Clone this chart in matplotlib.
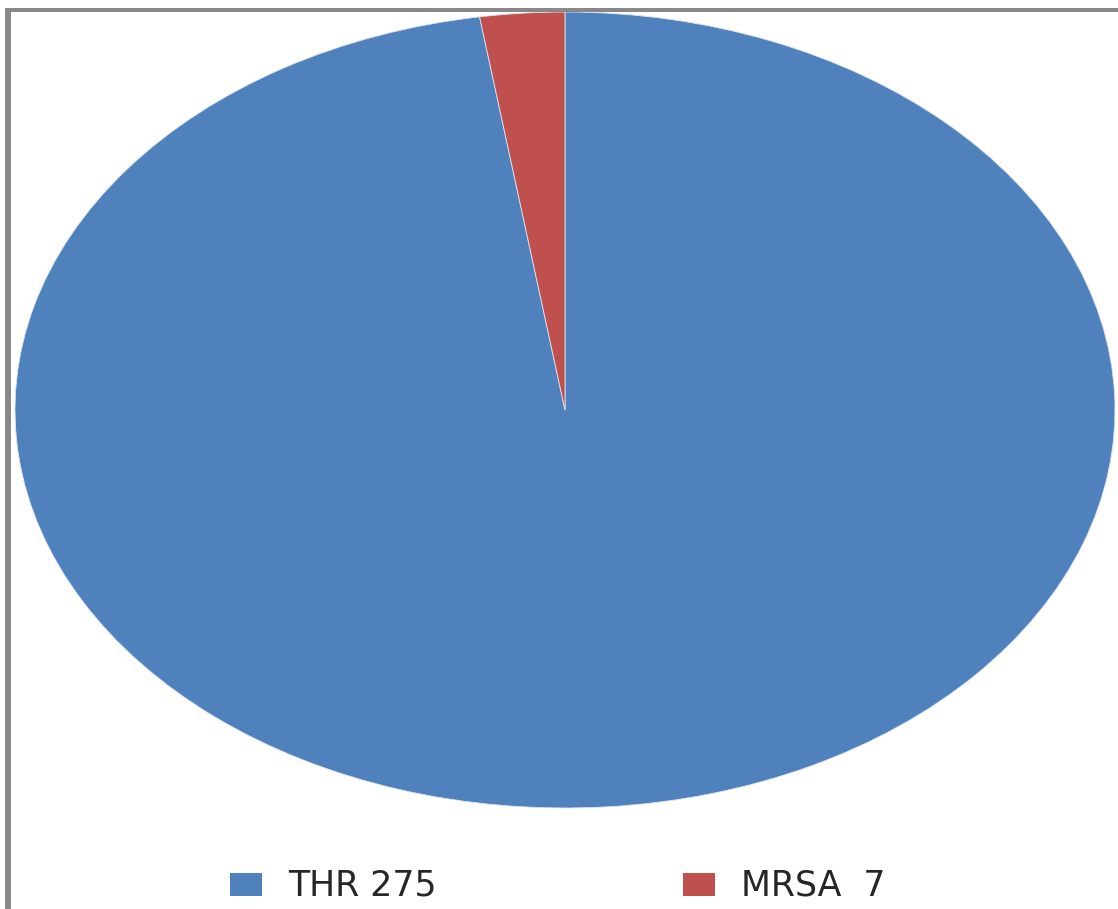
import matplotlib
matplotlib.use('Agg')
import matplotlib.pyplot as plt
from matplotlib.patches import Rectangle
from matplotlib.lines import Line2D

LABELS = ['THR', 'MRSA']
VALUES = [275, 7]
LEGEND_TEXT = ['THR 275', 'MRSA  7']
COLORS = ['#4F81BD', '#C0504D']

W, H = 1118, 909


def fx(px):
    return px / W


def fy(py):
    return 1 - py / H


fig = plt.figure(figsize=(W / 100, H / 100), dpi=100)

# pie stretched into an ellipse: bbox 15..1115 x 12..808 px
ax = fig.add_axes([fx(15), fy(808), fx(1100), 796 / H])
ax.pie(VALUES, colors=COLORS, startangle=90, counterclock=False,
       radius=1, wedgeprops=dict(linewidth=0.6, edgecolor='#dde4ee'))
ax.set_aspect('auto')
ax.set_xlim(-1, 1)
ax.set_ylim(-1, 1)
ax.axis('off')

# chart frame (only top and left visible)
fig.add_artist(Line2D([fx(5), 1], [fy(10), fy(10)], color='#888888',
                      lw=2.9, solid_capstyle='butt'))
fig.add_artist(Line2D([fx(8), fx(8)], [fy(8), 0], color='#888888',
                      lw=4.3, solid_capstyle='butt'))

# legend
legend_x = [230, 683]
for i in range(len(LABELS)):
    x0 = legend_x[i]
    fig.add_artist(Rectangle((fx(x0), fy(896)), fx(32), 23 / H,
                             transform=fig.transFigure, color=COLORS[i], lw=0))
    fig.text(fx(x0 + 58), fy(885), LEGEND_TEXT[i], fontsize=25,
             color='#262626', va='center', ha='left')

fig.savefig('out.png', dpi=100)
